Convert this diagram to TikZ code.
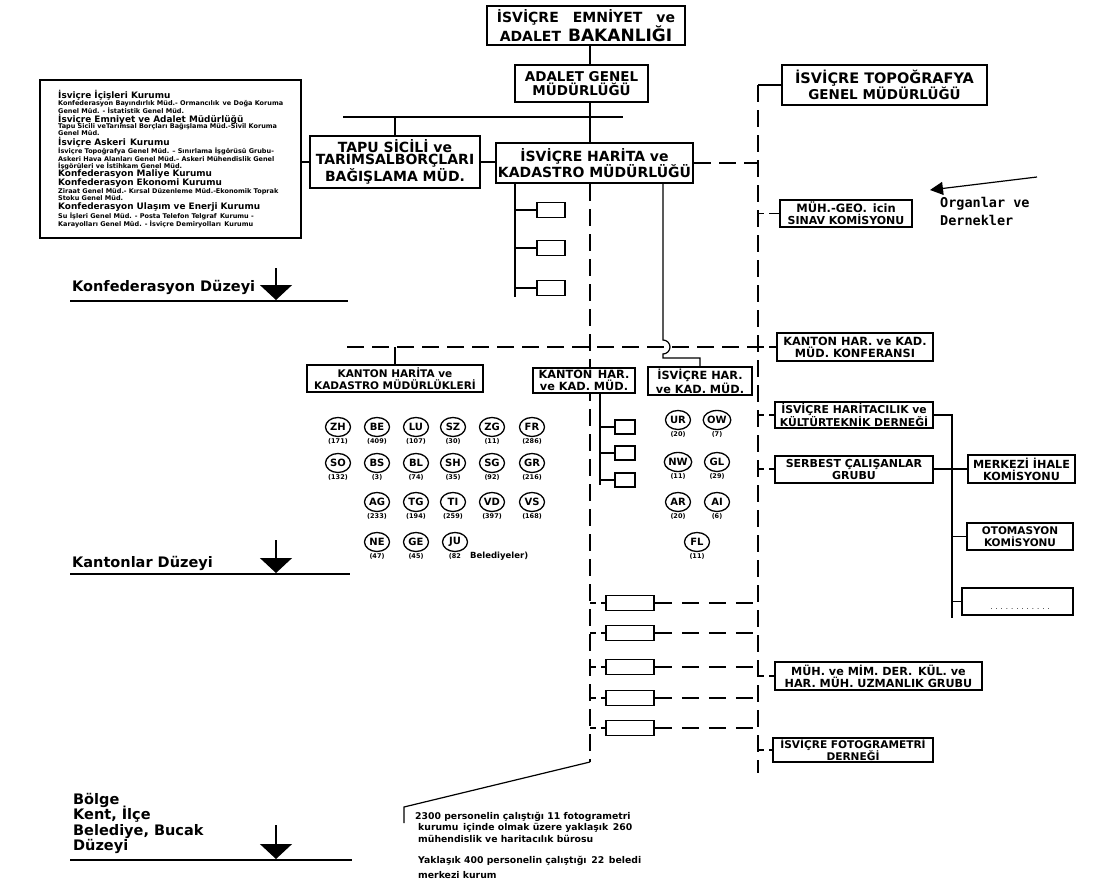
\documentclass[tikz,border=0pt]{standalone}
\usepackage{fontspec}
\setmainfont{DejaVu Sans}
\setmonofont{DejaVu Sans Mono}
\usetikzlibrary{arrows.meta,backgrounds,shapes.geometric}
\tikzset{
 bx/.style={draw, line width=2pt, fill=white, align=center, inner sep=1pt, font=\bfseries},
 sbox/.style={draw, line width=1.6pt, fill=white, inner sep=0pt},
 ln/.style={line width=1.2pt},
 dsh/.style={line width=1.2pt, dash pattern=on 17pt off 8pt},
 dshb/.style={line width=1.2pt, dash pattern=on 17pt off 10pt},
 stub/.style={line width=1.2pt, dash pattern=on 6pt off 5pt on 60pt off 1pt},
 cant/.style={ellipse, draw, line width=1.3pt, minimum width=25pt, minimum height=19pt, inner sep=0pt, font=\bfseries\fontsize{10}{10}\selectfont},
 num/.style={font=\bfseries\fontsize{6.5}{6.5}\selectfont, inner sep=0pt},
 lvl/.style={font=\bfseries\fontsize{14.5}{15}\selectfont, anchor=base west, inner sep=0pt},
 lvlarrow/.style={line width=1.2pt, -{Triangle[length=15pt,width=32pt]}},
 lh/.style={font=\bfseries\fontsize{8.9}{9}\selectfont, anchor=west, inner sep=0pt},
 lb/.style={font=\bfseries\fontsize{6.5}{6.5}\selectfont, anchor=west, inner sep=0pt},
 note/.style={font=\bfseries\fontsize{9.3}{9.5}\selectfont, anchor=west, inner sep=0pt},
}
\begin{document}
\begin{tikzpicture}[x=1pt,y=-1pt]
\useasboundingbox (0,0) rectangle (1093,883);
% ---------------- boxes
\node[bx, minimum width=198pt, minimum height=39pt] (top) at (586,25.5)
 {\fontsize{14}{16}\selectfont İSVİÇRE\quad EMNİYET\quad ve\\\fontsize{14}{16}\selectfont ADALET\enspace{\fontsize{17}{16}\selectfont BAKANLIĞI}};
\node[bx, minimum width=133pt, minimum height=37pt] (adalet) at (581.5,83.5)
 {\fontsize{13.5}{15}\selectfont ADALET GENEL\\\fontsize{13.5}{15}\selectfont MÜDÜRLÜĞÜ};
\node[bx, minimum width=170pt, minimum height=52pt] (tapu) at (395,162)
 {\fontsize{14}{15.5}\selectfont TAPU SİCİLİ ve\\\fontsize{14}{15.5}\selectfont TARIMSALBORÇLARI\\\fontsize{14}{15.5}\selectfont BAĞIŞLAMA MÜD.};
\node[bx, minimum width=197pt, minimum height=40pt] (harita) at (594.5,163)
 {\fontsize{14}{16}\selectfont İSVİÇRE HARİTA ve\\\fontsize{14}{16}\selectfont KADASTRO MÜDÜRLÜĞÜ};
\node[bx, minimum width=205pt, minimum height=40pt] (topo) at (884.5,85)
 {\fontsize{14.5}{16}\selectfont İSVİÇRE TOPOĞRAFYA\\\fontsize{13.5}{16}\selectfont GENEL MÜDÜRLÜĞÜ};
\node[bx, minimum width=132pt, minimum height=27pt] (sinav) at (846,213.5)
 {\fontsize{11.5}{12}\selectfont MÜH.-GEO.\enspace icin\\\fontsize{11}{12}\selectfont SINAV KOMİSYONU};
\node[bx, minimum width=156pt, minimum height=28pt] (konf) at (855,347)
 {\fontsize{11.3}{12}\selectfont KANTON HAR. ve KAD.\\\fontsize{11.3}{12}\selectfont MÜD. KONFERANSI};
\node[bx, minimum width=176pt, minimum height=27pt] (kh) at (395,378.5)
 {\fontsize{10.5}{11.5}\selectfont KANTON HARİTA ve\\\fontsize{10.5}{11.5}\selectfont KADASTRO MÜDÜRLÜKLERİ};
\node[bx, minimum width=102pt, minimum height=25pt] (khm) at (584,380.5)
 {\fontsize{11.3}{11.5}\selectfont KANTON\enspace HAR.\\\fontsize{11.3}{11.5}\selectfont ve KAD. MÜD.};
\node[bx, minimum width=104pt, minimum height=28pt] (ihm) at (700,381)
 {\fontsize{11.3}{12}\selectfont İSVİÇRE HAR.\\\fontsize{11.3}{12}\selectfont ve KAD. MÜD.};
\node[bx, minimum width=158pt, minimum height=26pt] (dern) at (854,415)
 {\fontsize{10.8}{11}\selectfont İSVİÇRE HARİTACILIK ve\\\fontsize{10.8}{11}\selectfont KÜLTÜRTEKNİK DERNEĞİ};
\node[bx, minimum width=158pt, minimum height=27pt] (serb) at (854,469)
 {\fontsize{11}{11.5}\selectfont SERBEST ÇALIŞANLAR\\\fontsize{11}{11.5}\selectfont GRUBU};
\node[bx, minimum width=107pt, minimum height=28pt] (merk) at (1021.5,469)
 {\fontsize{11.2}{12}\selectfont MERKEZİ İHALE\\\fontsize{11.2}{12}\selectfont KOMİSYONU};
\node[bx, minimum width=106pt, minimum height=27pt] (otom) at (1020,536.5)
 {\fontsize{10.5}{11.5}\selectfont OTOMASYON\\\fontsize{10.5}{11.5}\selectfont KOMİSYONU};
\node[bx, minimum width=111pt, minimum height=27pt] (empt) at (1017.5,601.5) {};
\node[font=\fontsize{7}{7}\selectfont, inner sep=0pt] (emptdots) at (1020,609) {. . . . . . . . . . . .};
\node[bx, minimum width=207pt, minimum height=28pt] (muh) at (878.5,676)
 {\fontsize{11.2}{11.5}\selectfont MÜH. ve MİM. DER.\enspace KÜL. ve\\\fontsize{11.2}{11.5}\selectfont HAR. MÜH. UZMANLIK GRUBU};
\node[bx, minimum width=160pt, minimum height=24pt] (foto) at (853,750)
 {\fontsize{10.6}{10.5}\selectfont İSVİÇRE FOTOGRAMETRİ\\\fontsize{10.6}{10.5}\selectfont DERNEĞİ};
% left big box
\node[draw, line width=2pt, fill=white, minimum width=261pt, minimum height=158pt, inner sep=0pt] (left) at (170.5,159) {};
\node[lh] (t1) at (58,95) {İsviçre İçişleri Kurumu};
\node[lb] (t2) at (58,104) {Konfederasyon Bayındırlık Müd.- Ormancılık\enspace ve Doğa Koruma};
\node[lb] (t3) at (58,111) {Genel Müd. - İstatistik Genel Müd.};
\node[lh] (t4) at (58,119) {İsviçre Emniyet ve Adalet Müdürlüğü};
\node[lb] (t5) at (58,127) {Tapu Sicili veTarımsal Borçları Bağışlama Müd.-Sivil Koruma};
\node[lb] (t6) at (58,133.5) {Genel Müd.};
\node[lh] (t7) at (58,142) {İsviçre Askeri\enspace Kurumu};
\node[lb] (t8) at (58,151) {İsviçre Topoğrafya Genel Müd. – Sınırlama İşgörüsü Grubu-};
\node[lb] (t9) at (58,159) {Askeri Hava Alanları Genel Müd.– Askeri Mühendislik Genel};
\node[lb] (t10) at (58,166.5) {İşgörüleri ve İstihkam Genel Müd.};
\node[lh] (t11) at (58,174.5) {Konfederasyon Maliye Kurumu};
\node[lh] (t12) at (58,183.5) {Konfederasyon Ekonomi Kurumu};
\node[lb] (t13) at (58,192) {Ziraat Genel Müd.- Kırsal Düzenleme Müd.-Ekonomik Toprak};
\node[lb] (t14) at (58,198.5) {Stoku Genel Müd.};
\node[lh] (t15) at (58,207.5) {Konfederasyon Ulaşım ve Enerji Kurumu};
\node[lb] (t16) at (58,216) {Su İşleri Genel Müd. - Posta Telefon Telgraf\enspace Kurumu -};
\node[lb] (t17) at (58,224) {Karayolları Genel Müd. - İsviçre Demiryolları\enspace Kurumu};
% small boxes
\node[sbox, minimum width=28pt, minimum height=15pt] (s1) at (551,210) {};
\node[sbox, minimum width=28pt, minimum height=15pt] (s2) at (551,248) {};
\node[sbox, minimum width=28pt, minimum height=15pt] (s3) at (551,288) {};
\node[sbox, minimum width=20pt, minimum height=14pt] (k1) at (625,427) {};
\node[sbox, minimum width=20pt, minimum height=14pt] (k2) at (625,453) {};
\node[sbox, minimum width=20pt, minimum height=14pt] (k3) at (625,480) {};
\node[sbox, minimum width=48pt, minimum height=15pt] (b1) at (630,603) {};
\node[sbox, minimum width=48pt, minimum height=15pt] (b2) at (630,633) {};
\node[sbox, minimum width=48pt, minimum height=15pt] (b3) at (630,667) {};
\node[sbox, minimum width=48pt, minimum height=15pt] (b4) at (630,698) {};
\node[sbox, minimum width=48pt, minimum height=15pt] (b5) at (630,728) {};
% cantons
\foreach \n/\x/\y/\c in {ZH/338/427/171, BE/377/427/409, LU/416/427/107, SZ/453/427/30, ZG/492/427/11, FR/532/427/286,
  SO/338/463/132, BS/377/463/3, BL/416/463/74, SH/453/463/35, SG/492/463/92, GR/532/463/216,
  AG/377/502/233, TG/416/502/194, TI/453/502/259, VD/492/502/397, VS/532/502/168,
  NE/377/542/47, GE/416/542/45,
  UR/678/420/20, OW/717/420/7, NW/678/462/11, GL/717/462/29, AR/678/502/20, AI/717/502/6, FL/697/542/11}{
  \node[cant] (c\n) at (\x,\y) {\n};
  \node[num] (n\n) at (\x,{\y+14}) {(\c)};
}
\node[cant] (cJU) at (455,542) {JU};
\node[num] (nJU) at (455,556) {(82};
\node[font=\bfseries\fontsize{8.5}{8.5}\selectfont, anchor=west, inner sep=0pt] (beled) at (470,556) {Belediyeler)};
% labels
\node[font=\ttfamily\bfseries\fontsize{13.5}{14}\selectfont, anchor=west, inner sep=0pt] (org1) at (940,204) {Organlar ve};
\node[font=\ttfamily\bfseries\fontsize{13.5}{14}\selectfont, anchor=west, inner sep=0pt] (org2) at (940,220) {Dernekler};
\node[lvl] (lv1) at (72,291) {Konfederasyon Düzeyi};
\node[lvl] (lv2) at (72,567) {Kantonlar Düzeyi};
\node[lvl] (lv3a) at (73,804) {Bölge};
\node[lvl] (lv3b) at (73,819.5) {Kent, İlçe};
\node[lvl] (lv3c) at (73,835) {Belediye, Bucak};
\node[lvl] (lv3d) at (73,850.5) {Düzeyi};
\node[note] (nt1) at (415,817) {2300 personelin çalıştığı 11 fotogrametri};
\node[note] (nt2) at (418,828) {kurumu\enspace içinde olmak üzere yaklaşık\enspace 260};
\node[note] (nt3) at (418,839) {mühendislik ve haritacılık bürosu};
\node[note] (nt4) at (418,861) {Yaklaşık 400 personelin çalıştığı\enspace 22\enspace beledi};
\node[note] (nt5) at (418,875) {merkezi kurum};
% coordinates
\coordinate (tA) at (590,117);
\coordinate (hL) at (343,117);
\coordinate (hR) at (623,117);
\coordinate (rv) at (758,85);
\coordinate (rvb) at (758,773);
\coordinate (lvx) at (515,297);
\coordinate (cv) at (590,762);
\coordinate (sl) at (404,807);
\coordinate (slb) at (404,823);
\coordinate (bxa) at (663,340);
\coordinate (bxb) at (663,358);
\coordinate (kh0) at (347,347);
\coordinate (kv) at (600,485);
\coordinate (dv) at (952,618);
\coordinate (oa1) at (1037,177);
\coordinate (oa2) at (930,190);
\coordinate (a1t) at (276,268); \coordinate (a1b) at (276,300);
\coordinate (g1a) at (70,301); \coordinate (g1b) at (348,301);
\coordinate (a2t) at (276,540); \coordinate (a2b) at (276,573);
\coordinate (g2a) at (70,574); \coordinate (g2b) at (350,574);
\coordinate (a3t) at (276,825); \coordinate (a3b) at (276,859);
\coordinate (g3a) at (70,860); \coordinate (g3b) at (352,860);
% ---------------- connectors
\begin{scope}[on background layer]
\fill[white] (0,0) rectangle (1093,883);
\draw[ln] (top.south -| tA) -- (adalet.north -| tA);
\draw[ln] (adalet.south -| tA) -- (harita.north -| tA);
\draw[ln] (hL) -- (hR);
\draw[ln] (tapu.north |- hL) -- (tapu.north);
\draw[ln] (left.east |- tapu.west) -- (tapu.west);
\draw[ln] (tapu.east) -- (harita.west |- tapu.east);
\draw[dsh] (rv) -- (rvb);
\draw[ln] (rv) -- (topo.west |- rv);
\draw[dsh] (harita.east) -- (harita.east -| rv);
\draw[stub] (sinav.west -| rv) -- (sinav.west);
\draw[ln] (lvx |- harita.south) -- (lvx);
\foreach \s in {s1,s2,s3}{\draw[ln] (\s.west -| lvx) -- (\s.west);}
\draw[dsh] (cv |- harita.south) -- (cv);
\draw[ln] (cv) -- (sl) -- (slb);
\draw[ln] (bxa |- harita.south) -- (bxa) arc(-90:90:7) -- (bxb) -| (ihm.north);
\draw[dsh] (kh0) -- (kh0 -| rv);
\draw[stub] (konf.west -| rv) -- (konf.west);
\draw[ln] (kh.north |- kh0) -- (kh.north);
\draw[ln] (kv |- khm.south) -- (kv);
\foreach \s in {k1,k2,k3}{\draw[ln] (\s.west -| kv) -- (\s.west);}
\draw[stub] (dern.west -| rv) -- (dern.west);
\draw[stub] (serb.west -| rv) -- (serb.west);
\draw[ln] (dern.east) -| (dv);
\draw[ln] (serb.east) -- (merk.west);
\draw[ln] (otom.west -| dv) -- (otom.west);
\draw[ln] (empt.west -| dv) -- (empt.west);
\foreach \s in {b1,b2,b3,b4,b5}{
  \draw[stub] (\s.west -| cv) -- (\s.west);
  \draw[dshb] (\s.east) -- (\s.east -| rv);}
\draw[stub] (muh.west -| rv) -- (muh.west);
\draw[stub] (foto.west -| rv) -- (foto.west);
\draw[ln, -{Triangle[length=13pt,width=13pt]}] (oa1) -- (oa2);
\draw[lvlarrow] (a1t) -- (a1b);
\draw[line width=1.5pt] (g1a) -- (g1b);
\draw[lvlarrow] (a2t) -- (a2b);
\draw[line width=1.5pt] (g2a) -- (g2b);
\draw[lvlarrow] (a3t) -- (a3b);
\draw[line width=1.5pt] (g3a) -- (g3b);
\end{scope}
\end{tikzpicture}
\end{document}
